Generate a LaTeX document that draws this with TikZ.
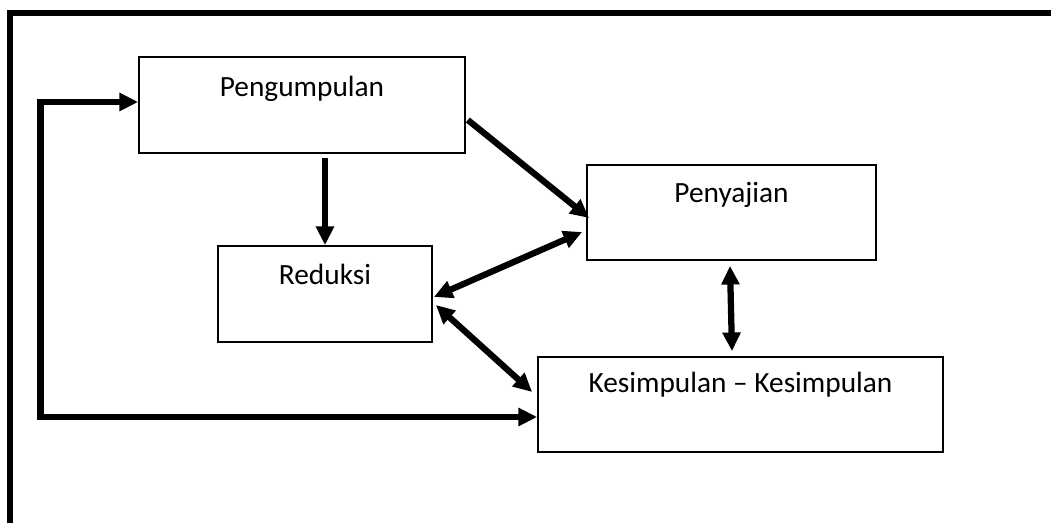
\documentclass[tikz,border=0pt]{standalone}
\usepackage{fontspec}
\setmainfont{Carlito}
\usetikzlibrary{arrows.meta,calc}
\begin{document}
\begin{tikzpicture}[x=0.75pt,y=-0.75pt,
  box/.style={draw,line width=1.3pt,rectangle,inner sep=0pt},
  lbl/.style={anchor=base,inner sep=0pt,font=\fontsize{22pt}{26pt}\selectfont},
  arr/.style={line width=4.7pt,-{Triangle[length=14pt,width=13pt]}},
  dbl/.style={line width=4.7pt,{Triangle[length=14pt,width=13pt]}-{Triangle[length=14pt,width=13pt]}},
  frame/.style={line width=4.4pt,line join=miter}]
\useasboundingbox (0,0) rectangle (1051,523);
% outer frame (top and left sides only)
\draw[frame] (1051,12.7) -- (10.3,12.7) -- (10.3,523);
% boxes
\node[box,minimum width=244.5pt,minimum height=72pt] (peng) at (302,105) {};
\node[box,minimum width=216.75pt,minimum height=71.25pt] (pen) at (731.5,212.5) {};
\node[box,minimum width=160.5pt,minimum height=72pt] (red) at (325,294) {};
\node[box,minimum width=303.75pt,minimum height=71.25pt] (kes) at (740.5,404.5) {};
% texts
\node[lbl] (pengT) at (302,97) {Pengumpulan};
\node[lbl] (penT) at (731.5,203) {Penyajian};
\node[lbl] (redT) at (325,285) {Reduksi};
\node[lbl] (kesT) at (740.5,393) {Kesimpulan – Kesimpulan};
% connectors
\draw[arr] ($(red.north |- peng.south)+(0,4)$) -- (red.north);
\draw[arr] ($(peng.east)+(2,15)$) -- ($(pen.west)+(3,5.5)$);
\draw[dbl] ($(red.east)+(1,3)$) -- ($(pen.west)+(-4,19.5)$);
\draw[dbl] ($(red.east)+(3,11)$) -- ($(kes.west)+(-5,-12.5)$);
\draw[dbl] ($(pen.south)+(-1.5,5)$) -- ($(kes.north)+(-8.5,-5)$);
% feedback loop
\coordinate (fb) at (40.5,417);
\draw[dbl,line join=miter] ($(peng.west)+(0,-3)$) -| (fb) -- (fb -| kes.west);
\end{tikzpicture}
\end{document}
